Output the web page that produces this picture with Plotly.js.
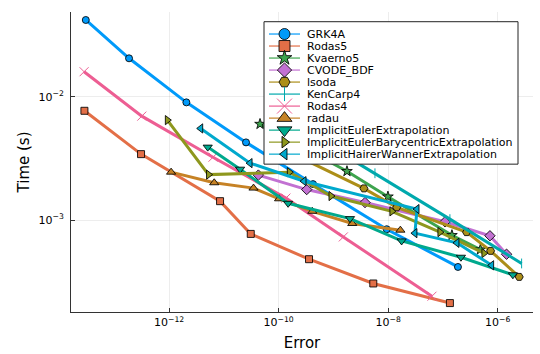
<!DOCTYPE html>
<html>
<head>
<meta charset="utf-8">
<script src="https://cdn.plot.ly/plotly-3.0.1.min.js"></script>
<style>html,body{margin:0;padding:0;background:#fff;}#chart{width:540px;height:354px;}</style>
</head>
<body>
<div id="chart"></div>
<script>
// ---- data (Error, Time in seconds) ----
const names = ["GRK4A","Rodas5","Kvaerno5","CVODE_BDF","lsoda","KenCarp4","Rodas4","radau",
  "ImplicitEulerExtrapolation","ImplicitEulerBarycentricExtrapolation","ImplicitHairerWannerExtrapolation"];

const errGRK4A = [3.02e-14, 1.86e-13, 2.07e-12, 2.54e-11, 4.25e-10, 9.4e-9, 1.88e-7];
const timeGRK4A = [0.0419, 0.0205, 0.00901, 0.00427, 0.00196, 0.000845, 0.000418];
const errRodas5 = [2.85e-14, 3.08e-13, 8.53e-12, 3.10e-11, 3.59e-10, 5.35e-9, 1.34e-7];
const timeRodas5 = [0.0077, 0.00343, 0.001426, 0.000774, 0.000483, 0.000307, 0.000213];
const errKvaerno5 = [4.58e-11, 1.77e-9, 9.9e-9, 1.46e-7, 4.83e-7];
const timeKvaerno5 = [0.00601, 0.00249, 0.00155, 0.000755, 0.000578];
const errCVODE = [4.27e-11, 3.26e-10, 3.78e-9, 1.09e-7, 7.21e-7, 1.45e-6];
const timeCVODE = [0.00232, 0.00177, 0.00139, 0.00097, 0.000748, 0.00053];
const errLsoda = [1.31e-10, 3.61e-9, 1.43e-8, 2.70e-7, 7.41e-7, 2.47e-6];
const timeLsoda = [0.0037, 0.00181, 0.00127, 0.0008, 0.000564, 0.000347];
const errKenCarp4 = [2.46e-10, 5.74e-9, 1.34e-7, 2.73e-6];
const timeKenCarp4 = [0.00557, 0.0024, 0.00102, 0.000446];
const errRodas4 = [2.81e-14, 3.18e-13, 6.35e-12, 1.36e-10, 1.52e-9, 6.30e-8];
const timeRodas4 = [0.01596, 0.00697, 0.00324, 0.00151, 0.000732, 0.000242];
const errRadau = [1.09e-12, 6.68e-12, 3.48e-11, 1.02e-10, 4.12e-10, 2.21e-9, 1.67e-8];
const timeRadau = [0.00245, 0.00201, 0.00182, 0.00149, 0.00118, 0.00094, 0.00083];
const errIEE = [5.08e-12, 1.98e-11, 1.49e-10, 2.01e-9, 1.76e-8, 2.13e-7, 1.89e-6];
const timeIEE = [0.00391, 0.00259, 0.00137, 0.00103, 0.000679, 0.000501, 0.000361];
const errIEB = [9.31e-13, 5.26e-12, 1.57e-10, 9.04e-10, 1.17e-8, 8.81e-8, 5.6e-7];
const timeIEB = [0.00647, 0.00234, 0.00245, 0.00157, 0.00118, 0.0008, 0.00054];
const errIHW = [3.78e-12, 3.01e-11, 2.91e-10, 3.36e-8, 3.08e-8, 1.80e-7, 7.74e-7];
const timeIHW = [0.00554, 0.0029, 0.00207, 0.00123, 0.000785, 0.000655, 0.000431];

const xTickVals = [1e-12, 1e-10, 1e-8, 1e-6];
const xTickText = ["10<sup>\u221212</sup>", "10<sup>\u221210</sup>", "10<sup>\u22128</sup>", "10<sup>\u22126</sup>"];
const yTickVals = [1e-3, 1e-2];
const yTickText = ["10<sup>\u22123</sup>", "10<sup>\u22122</sup>"];

// ---- styles ----
const errs = [errGRK4A, errRodas5, errKvaerno5, errCVODE, errLsoda, errKenCarp4, errRodas4, errRadau, errIEE, errIEB, errIHW];
const times = [timeGRK4A, timeRodas5, timeKvaerno5, timeCVODE, timeLsoda, timeKenCarp4, timeRodas4, timeRadau, timeIEE, timeIEB, timeIHW];
const colors = ["#009AFA","#E36F47","#3EA44E","#C271D2","#AC8E18","#00A9AD","#ED5E93","#C68225","#00A98D","#8E971E","#00A9CD"];
const symbols = ["circle","square","star","diamond","hexagon2","line-ns-open","x-thin-open","triangle-up","triangle-down","triangle-right","triangle-left"];
const plotSizes = [7,7,8,8,8,7,9,8,8,8,8];
const legSizes = [11,11,11,11,11,10,15,13,13,10,10];
const FONT = "DejaVu Sans, sans-serif";

function markerFor(i, size) {
  const open = symbols[i].indexOf("open") >= 0;
  return open
    ? {symbol: symbols[i], size: size, color: colors[i], line: {color: colors[i], width: 1}}
    : {symbol: symbols[i], size: size, color: colors[i], line: {color: "rgba(0,0,0,0.85)", width: 1}};
}

const traces = [];
for (let i = 0; i < names.length; i++) {
  traces.push({
    x: errs[i], y: times[i], type: "scatter", mode: "lines+markers", name: names[i],
    line: {color: colors[i], width: 3}, marker: markerFor(i, plotSizes[i]),
    showlegend: false, hoverinfo: "skip"
  });
}

// ---- hand-drawn legend (pixel layout -> plot-area fractions) ----
const W = 540, H = 354, M = {l: 71, r: 7, t: 12, b: 42.3};
const PW = W - M.l - M.r, PH = H - M.t - M.b;
const fx = px => (px - M.l) / PW;
const fy = py => (H - M.b - py) / PH;
const LG = {left: 264, right: 518, top: 21.7, bottom: 164, row0: 34, step: 12, lx0: 269, lx1: 300, mx: 284.5, tx: 305};

traces.push({
  x: [fx(LG.left), fx(LG.right), fx(LG.right), fx(LG.left), fx(LG.left)],
  y: [fy(LG.top), fy(LG.top), fy(LG.bottom), fy(LG.bottom), fy(LG.top)],
  xaxis: "x2", yaxis: "y2", type: "scatter", mode: "lines", fill: "toself",
  fillcolor: "#ffffff", line: {color: "#222", width: 1}, showlegend: false, hoverinfo: "skip"
});
const annotations = [];
for (let i = 0; i < names.length; i++) {
  const ry = fy(LG.row0 + LG.step * i);
  traces.push({x: [fx(LG.lx0), fx(LG.lx1)], y: [ry, ry], xaxis: "x2", yaxis: "y2", type: "scatter",
    mode: "lines", line: {color: colors[i], width: 1.2}, showlegend: false, hoverinfo: "skip"});
  traces.push({x: [fx(LG.mx)], y: [ry], xaxis: "x2", yaxis: "y2", type: "scatter",
    mode: "markers", marker: markerFor(i, legSizes[i]), showlegend: false, hoverinfo: "skip"});
  annotations.push({text: names[i], xref: "paper", yref: "paper", x: fx(LG.tx), y: ry,
    xanchor: "left", yanchor: "middle", showarrow: false, font: {family: FONT, size: 11, color: "#000"}});
}

const axisCommon = {
  type: "log", ticks: "inside", ticklen: 4, tickcolor: "#333", showline: true, linecolor: "#333", linewidth: 1,
  showgrid: true, gridcolor: "rgba(0,0,0,0.07)", zeroline: false, mirror: false,
  tickfont: {family: FONT, size: 11, color: "#000"}
};

const layout = {
  width: W, height: H, margin: M,
  paper_bgcolor: "#fff", plot_bgcolor: "#fff",
  showlegend: false,
  font: {family: FONT, size: 11, color: "#000"},
  xaxis: Object.assign({}, axisCommon, {
    range: [-13.79, -5.356], tickmode: "array", tickvals: xTickVals, ticktext: xTickText,
    title: {text: "Error", font: {family: FONT, size: 15, color: "#000"}, standoff: 9}
  }),
  yaxis: Object.assign({}, axisCommon, {
    range: [-3.744, -1.313], tickmode: "array", tickvals: yTickVals, ticktext: yTickText, ticklabelstandoff: 4,
    title: {text: "Time (s)", font: {family: FONT, size: 15, color: "#000"}, standoff: 5}
  }),
  xaxis2: {overlaying: "x", range: [0, 1], visible: false, fixedrange: true},
  yaxis2: {overlaying: "y", range: [0, 1], visible: false, fixedrange: true},
  annotations: annotations
};

Plotly.newPlot("chart", traces, layout, {staticPlot: true, displayModeBar: false});
</script>
</body>
</html>
